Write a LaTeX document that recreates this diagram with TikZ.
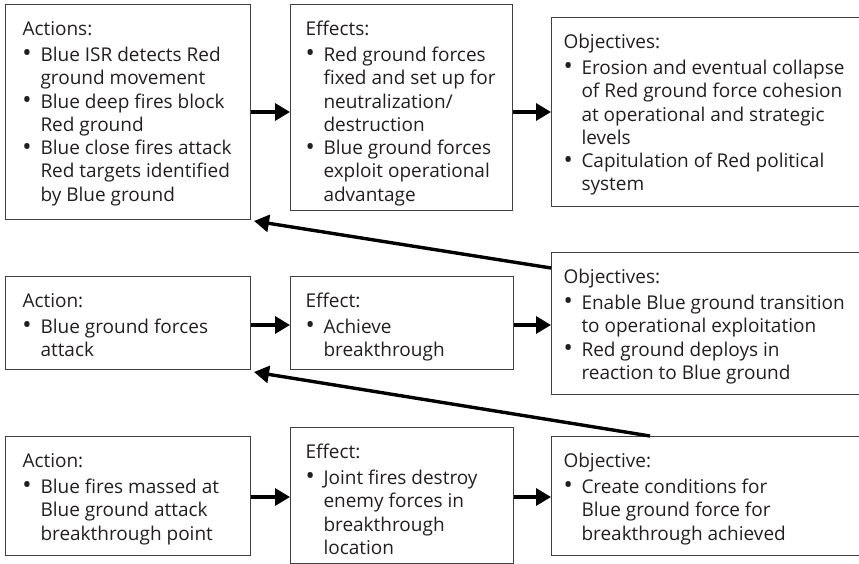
\documentclass[tikz,border=0pt]{standalone}
\usepackage{fontspec}
\setmainfont{Open Sans}
\usetikzlibrary{arrows.meta}

\definecolor{ink}{HTML}{231F20}
\definecolor{frame}{HTML}{404040}

% box title line, with its baseline 31pt below the frame
\newcommand{\boxhead}[1]{\noindent\rule{0pt}{31pt}#1\par\vspace{2.7pt}}
% bulleted entry with a hanging indent
\newcommand{\bitem}[1]{\par\hangindent=18pt\hangafter=1\noindent\makebox[18pt][l]{\raisebox{-0.4pt}{\scalebox{1.3}{\textbullet}}}#1\par}
% framed text block of given width/height and left padding
\newcommand{\blockbody}[4]{\parbox[t][#2][t]{#1}{\leftskip=#3\rightskip=0pt plus 1fil\parfillskip=0pt plus 1fil\parindent=0pt #4}}

\begin{document}
\begin{tikzpicture}[x=1pt,y=-1pt,
  box/.style={draw=frame, line width=1pt, inner sep=0pt, anchor=north west,
    text=ink, font=\fontsize{19}{23.3}\selectfont},
  arr/.style={draw=black, line width=3.4pt,
    -{Triangle[length=15pt,width=17pt]}, shorten >=0pt}
]
\useasboundingbox (0,0) rectangle (859,564);
\clip (0,0) rectangle (859,564);

% ---- top row
\node[box] (a1) at (5,4) {\blockbody{245pt}{215pt}{17pt}{%
  \boxhead{Actions:}
  \bitem{Blue ISR detects Red\\ground movement}
  \bitem{Blue deep fires block\\Red ground}
  \bitem{Blue close fires attack\\Red targets identified\\by Blue ground}}};
\node[box] (e1) at (290,4) {\blockbody{222pt}{206pt}{15pt}{%
  \boxhead{Effects:}
  \bitem{Red ground forces\\fixed and set up for\\neutralization/\\destruction}
  \bitem{Blue ground forces\\exploit operational\\advantage}}};
\node[box] (o1) at (551,17) {\blockbody{315pt}{189pt}{12pt}{%
  \boxhead{Objectives:}
  \bitem{Erosion and eventual collapse\\of Red ground force cohesion\\at operational and strategic\\levels}
  \bitem{Capitulation of Red political\\system}}};

% ---- middle row
\node[box] (a2) at (5,276) {\blockbody{245pt}{93pt}{17pt}{%
  \boxhead{Action:}
  \bitem{Blue ground forces\\attack}}};
\node[box] (e2) at (290,276) {\blockbody{223pt}{93pt}{15pt}{%
  \boxhead{Effect:}
  \bitem{Achieve\\breakthrough}}};
\node[box] (o2) at (551,252) {\blockbody{315pt}{142pt}{12pt}{%
  \boxhead{Objectives:}
  \bitem{Enable Blue ground transition\\to operational exploitation}
  \bitem{Red ground deploys in\\reaction to Blue ground}}};

% ---- bottom row
\node[box] (a3) at (5,436) {\blockbody{245pt}{119pt}{17pt}{%
  \boxhead{Action:}
  \bitem{Blue fires massed at\\Blue ground attack\\breakthrough point}}};
\node[box] (e3) at (290,427) {\blockbody{223pt}{136pt}{15pt}{%
  \boxhead{Effect:}
  \bitem{Joint fires destroy\\enemy forces in\\breakthrough\\location}}};
\node[box] (o3) at (551,436) {\blockbody{315pt}{119pt}{12pt}{%
  \boxhead{Objective:}
  \bitem{Create conditions for\\Blue ground force for\\breakthrough achieved}}};

% ---- arrow rows
\coordinate (r1) at (0,112);
\coordinate (r2) at (0,325);
\coordinate (r3) at (0,497);

\draw[arr] (a1.east |- r1) -- (e1.west |- r1);
\draw[arr] (e1.east |- r1) -- (o1.west |- r1);
\draw[arr] (a2.east |- r2) -- (e2.west |- r2);
\draw[arr] (e2.east |- r2) -- (o2.west |- r2);
\draw[arr] (a3.east |- r3) -- (e3.west |- r3);
\draw[arr] (e3.east |- r3) -- (o3.west |- r3);

% ---- feedback arrows
\coordinate (f1s) at ([yshift=-16pt]o2.north west);
\coordinate (f1e) at ([xshift=3pt,yshift=-1pt]a1.south east);
\coordinate (f2s) at ([xshift=99pt]o3.north west);
\coordinate (f2e) at ([xshift=3pt,yshift=-2pt]a2.south east);
\draw[arr] (f1s) -- (f1e);
\draw[arr] (f2s) -- (f2e);
\end{tikzpicture}
\end{document}
